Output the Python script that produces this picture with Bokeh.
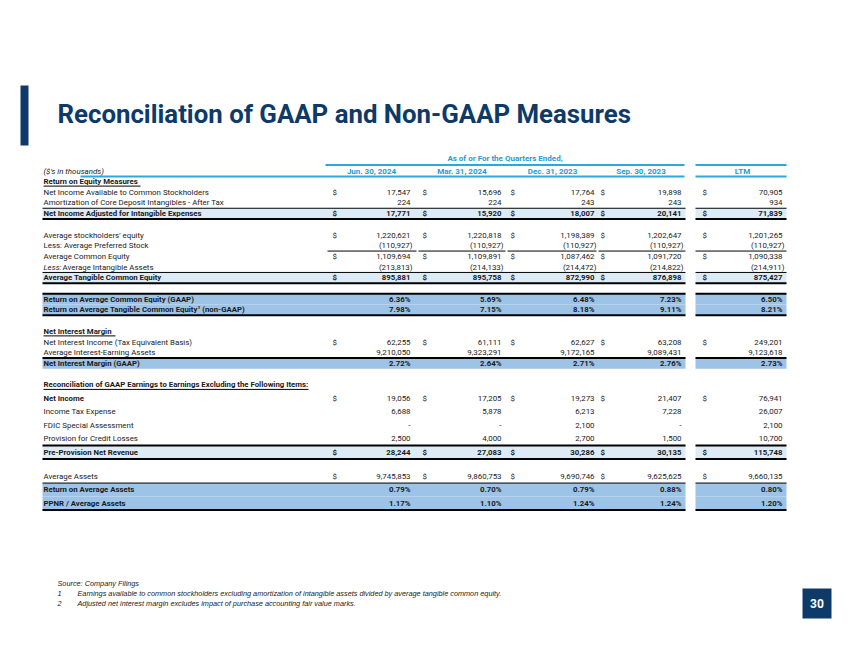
from bokeh.plotting import figure
from bokeh.models import Range1d, ColumnDataSource
from bokeh.core.properties import value
from bokeh.embed import file_html
from bokeh.resources import INLINE

# ------------------------------------------------------------------ data
title = "Reconciliation of GAAP and Non-GAAP Measures"
super_header = "As of or For the Quarters Ended,"
units_label = "($'s in thousands)"
periods = ["Jun. 30, 2024", "Mar. 31, 2024", "Dec. 31, 2023", "Sep. 30, 2023", "LTM"]

net_income_available = [17547, 15696, 17764, 19898, 70905]
amortization_cdi = [224, 224, 243, 243, 934]
net_income_adjusted = [17771, 15920, 18007, 20141, 71839]
avg_stockholders_equity = [1220621, 1220818, 1198389, 1202647, 1201265]
avg_preferred_stock = [-110927, -110927, -110927, -110927, -110927]
avg_common_equity = [1109694, 1109891, 1087462, 1091720, 1090338]
avg_intangible_assets = [-213813, -214133, -214472, -214822, -214911]
avg_tangible_common_equity = [895881, 895758, 872990, 876898, 875427]
roace_pct = [6.36, 5.69, 6.48, 7.23, 6.50]
rotce_pct = [7.98, 7.15, 8.18, 9.11, 8.21]
net_interest_income_te = [62255, 61111, 62627, 63208, 249201]
avg_interest_earning_assets = [9210050, 9323291, 9172165, 9089431, 9123618]
nim_pct = [2.72, 2.64, 2.71, 2.76, 2.73]
net_income = [19056, 17205, 19273, 21407, 76941]
income_tax_expense = [6688, 5878, 6213, 7228, 26007]
fdic_special_assessment = [0, 0, 2100, 0, 2100]
provision_credit_losses = [2500, 4000, 2700, 1500, 10700]
ppnr = [28244, 27083, 30286, 30135, 115748]
avg_assets = [9745853, 9860753, 9690746, 9625625, 9660135]
roaa_pct = [0.79, 0.70, 0.79, 0.88, 0.80]
ppnr_avg_assets_pct = [1.17, 1.10, 1.24, 1.24, 1.20]

source_note = "Source: Company Filings"
footnote_marks = ["1", "2"]
footnote_texts = [
    "Earnings available to common stockholders excluding amortization of intangible assets divided by average tangible common equity.",
    "Adjusted net interest margin excludes impact of purchase accounting fair value marks.",
]
page_number = "30"

# ------------------------------------------------------------------ table structure
# (kind, label, values, dollar, line_above, line_below, bold_label)
rows = [
    ("section", "Return on Equity Measures", None, False, None, None, True),
    ("row", "Net Income Available to Common Stockholders", net_income_available, True, None, None, False),
    ("row", "Amortization of Core Deposit Intangibles - After Tax", amortization_cdi, False, None, None, False),
    ("total", "Net Income Adjusted for Intangible Expenses", net_income_adjusted, True, "thin", "thick", True),
    ("spacer",),
    ("row", "Average stockholders' equity", avg_stockholders_equity, True, None, None, False),
    ("row", "Less: Average Preferred Stock", avg_preferred_stock, False, None, None, False),
    ("row", "Average Common Equity", avg_common_equity, True, "cols", None, False),
    ("row", "|Less:| Average Intangible Assets", avg_intangible_assets, False, None, None, False),
    ("total", "Average Tangible Common Equity", avg_tangible_common_equity, True, "thin", "thick", True),
    ("spacer",),
    ("ratio", "Return on Average Common Equity (GAAP)", roace_pct, False, "thick", None, True),
    ("ratio", "Return on Average Tangible Common Equity\u00b9 (non-GAAP)", rotce_pct, False, None, "thick", True),
    ("spacer",),
    ("section", "Net Interest Margin", None, False, None, None, True),
    ("row", "Net Interest Income (Tax Equivalent Basis)", net_interest_income_te, True, None, None, False),
    ("row", "Average Interest-Earning Assets", avg_interest_earning_assets, False, None, None, False),
    ("ratio", "Net Interest Margin (GAAP)", nim_pct, False, "thick", None, True),
    ("spacer",),
    ("pitch", 13.5),
    ("section", "Reconciliation of GAAP Earnings to Earnings Excluding the Following Items:", None, False, None, None, True),
    ("row", "Net Income", net_income, True, None, None, True),
    ("row", "Income Tax Expense", income_tax_expense, False, None, None, False),
    ("row", "FDIC Special Assessment", fdic_special_assessment, False, None, None, False),
    ("row", "Provision for Credit Losses", provision_credit_losses, False, None, None, False),
    ("total", "Pre-Provision Net Revenue", ppnr, True, "thick", "thick", True),
    ("gap", 10.5),
    ("row", "Average Assets", avg_assets, True, None, None, False),
    ("ratio", "Return on Average Assets", roaa_pct, False, "thin", None, True),
    ("ratio", "PPNR / Average Assets", ppnr_avg_assets_pct, False, None, "thick", True),
]
section_underline_w = {"Return on Equity Measures": 97, "Net Interest Margin": 72,
                       "Reconciliation of GAAP Earnings to Earnings Excluding the Following Items:": 265}

# ------------------------------------------------------------------ layout / style
NAVY = "#0D3A68"
BLUE_TXT = "#1E9BD7"
BLUE_LINE = "#2AA9E1"
LIGHT_BAND = "#DDEBF7"
MID_BAND = "#9DC3E6"
FONT = value("Roboto")

label_x = 43
dollar_x = [332, 422, 510, 600, 702]
value_right = [410, 501, 594, 681, 782]
col_left = [327, 418, 507, 598, 695]
col_right = [416, 505, 596, 685, 786]
full_spans = [(42, 685), (695, 786)]
y_start = 181.0
pitch0 = 10.7


def fmt(v, pct):
    if pct:
        return f"{v:.2f}%"
    if v == 0:
        return "-"
    if v < 0:
        return f"({-v:,})"
    return f"{v:,}"


W, H = 842, 648
p = figure(width=W, height=H, x_range=Range1d(0, W), y_range=Range1d(H, 0),
           output_backend="svg", toolbar_location=None, min_border=0)
p.axis.visible = False
p.grid.visible = False
p.outline_line_color = None
p.background_fill_color = "white"

band_q = dict(left=[], right=[], top=[], bottom=[], color=[])
lines = {1.0: dict(x0=[], x1=[], y0=[], y1=[]), 2.0: dict(x0=[], x1=[], y0=[], y1=[])}
txt = {}


def add_txt(key, x, y, s):
    d = txt.setdefault(key, dict(x=[], y=[], text=[]))
    d["x"].append(x); d["y"].append(y); d["text"].append(s)


def add_line(w, x0, x1, y):
    d = lines[w]
    d["x0"].append(x0); d["x1"].append(x1); d["y0"].append(y); d["y1"].append(y)


y = y_start
pitch = pitch0
for r in rows:
    kind = r[0]
    if kind == "pitch":
        pitch = r[1]
        continue
    if kind == "spacer":
        y += pitch
        continue
    if kind == "gap":
        y += r[1]
        continue
    _, label, vals, dollar, above, below, bold_label = r
    top, bot = y - pitch / 2, y + pitch / 2
    if kind in ("total", "ratio"):
        for a, b in full_spans:
            band_q["left"].append(a); band_q["right"].append(b)
            band_q["top"].append(top); band_q["bottom"].append(bot)
            band_q["color"].append(LIGHT_BAND if kind == "total" else MID_BAND)
    for which, yy in (("above", top), ("below", bot)):
        style = above if which == "above" else below
        if style in ("thin", "thick"):
            w = 1.0 if style == "thin" else 2.0
            for a, b in full_spans:
                add_line(w, a, b, yy)
        elif style == "cols":
            for a, b in zip(col_left, col_right):
                add_line(1.0, a, b, yy)
    lkey = "label_bold" if bold_label else "label"
    if label.startswith("|"):
        pre, rest = label[1:].split("|", 1)
        add_txt("label_italic", label_x, y, pre)
        add_txt(lkey, label_x + 19, y, rest.strip())
    else:
        add_txt(lkey, label_x, y, label)
    if kind == "section":
        add_line(1.0, label_x, label_x + section_underline_w[label], y + 4.6)
    if vals is not None:
        pct = kind == "ratio"
        vkey = "val_bold" if kind in ("total", "ratio") else "val"
        for i, v in enumerate(vals):
            s = fmt(v, pct)
            xr = value_right[i] + (2 if (not pct and v < 0) else 0)
            add_txt(vkey, xr, y, s)
            if dollar:
                add_txt("dol_bold" if kind == "total" else "dol", dollar_x[i], y, "$")
    y += pitch

p.quad(source=ColumnDataSource(band_q), left="left", right="right", top="top", bottom="bottom",
       fill_color="color", line_color=None)

hdr_lines = dict(x0=[325, 695, 80, 695], x1=[684, 786, 684, 786], y0=[164.5, 164.5, 176, 176],
                 y1=[164.5, 164.5, 176, 176])
p.segment(source=ColumnDataSource(hdr_lines), x0="x0", y0="y0", x1="x1", y1="y1",
          line_color=BLUE_LINE, line_width=2)

for w, d in lines.items():
    p.segment(source=ColumnDataSource(d), x0="x0", y0="y0", x1="x1", y1="y1",
              line_color="black", line_width=w)

styles = {
    "label": dict(align="left", bold=False, italic=False),
    "label_bold": dict(align="left", bold=True, italic=False),
    "label_italic": dict(align="left", bold=False, italic=True),
    "val": dict(align="right", bold=False, italic=False),
    "val_bold": dict(align="right", bold=True, italic=False),
    "dol": dict(align="left", bold=False, italic=False),
    "dol_bold": dict(align="left", bold=True, italic=False),
}
for key, d in txt.items():
    st = styles[key]
    fs = "bold" if st["bold"] else ("italic" if st["italic"] else "normal")
    p.text(source=ColumnDataSource(d), x="x", y="y", text="text", text_font=FONT,
           text_font_size="7.9px" if not st["bold"] else "7.8px", text_font_style=fs,
           text_align=st["align"], text_baseline="middle", text_color="#1a1a1a")

centers = [(a + b) / 2 for a, b in zip(dollar_x, value_right)]
p.text(x=centers, y=[170.5] * len(periods), text=periods, text_font=FONT, text_font_size="8px",
       text_font_style="bold", text_align="center", text_baseline="middle", text_color=BLUE_TXT)
p.text(x=[(325 + 684) / 2], y=[158], text=[super_header], text_font=FONT, text_font_size="8px",
       text_font_style="bold", text_align="center", text_baseline="middle", text_color=BLUE_TXT)
p.text(x=[label_x], y=[170.5], text=[units_label], text_font=FONT, text_font_size="7.9px",
       text_font_style="italic", text_align="left", text_baseline="middle", text_color="#1a1a1a")

p.quad(left=[20], right=[28], top=[85], bottom=[145], fill_color=NAVY, line_color=None)
p.text(x=[57], y=[113], text=[title], text_font=FONT, text_font_size="25.8px", text_font_style="bold",
       text_align="left", text_baseline="alphabetic", text_color=NAVY)

FN_FONT = value("Liberation Sans")
p.text(x=[57], y=[583], text=[source_note], text_font=FN_FONT, text_font_size="7.3px",
       text_font_style="italic", text_baseline="middle", text_color="#222222")
p.text(x=[57, 57], y=[593, 603], text=footnote_marks, text_font=FN_FONT, text_font_size="7.3px",
       text_font_style="italic", text_baseline="middle", text_color="#222222")
p.text(x=[77, 77], y=[593, 603], text=footnote_texts, text_font=FN_FONT, text_font_size="7.3px",
       text_font_style="italic", text_baseline="middle", text_color="#222222")

p.quad(left=[802], right=[831], top=[588], bottom=[618], fill_color=NAVY, line_color=None)
p.text(x=[816.5], y=[603], text=[page_number], text_font=FONT, text_font_size="12px",
       text_font_style="bold", text_align="center", text_baseline="middle", text_color="white")

open("out.html", "w").write(file_html(p, INLINE))
